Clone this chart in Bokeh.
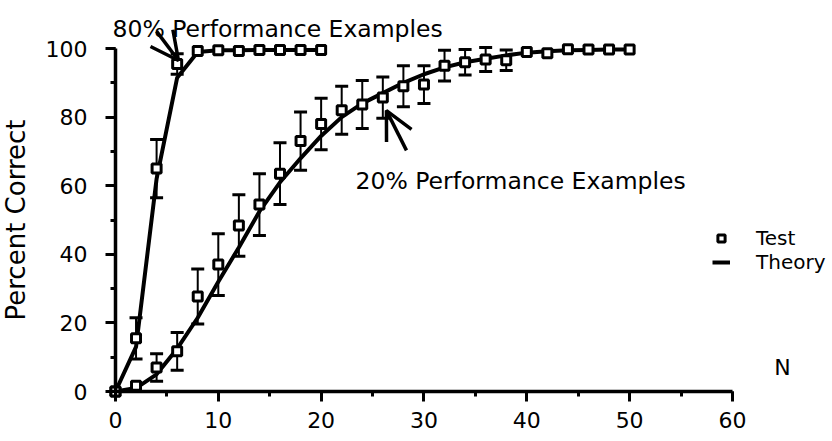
from bokeh.plotting import figure
from bokeh.models import (Range1d, SingleIntervalTicker, ColumnDataSource, Whisker, TeeHead,
                          Label, Arrow, OpenHead, Legend, LegendItem)
from bokeh.embed import file_html
from bokeh.resources import INLINE

# ---- data ----
n80 = [0, 2, 4, 6, 8, 10, 12, 14, 16, 18, 20]
test80 = [0, 15.5, 65, 95.5, 99.3, 99.5, 99.3, 99.6, 99.6, 99.6, 99.6]
err80 = [0, 6, 8.5, 3, 0, 0, 0, 0, 0, 0, 0]
theory80 = [0, 13, 62, 91.5, 99, 99.5, 99.5, 99.6, 99.6, 99.6, 99.6]

n20 = [0, 2, 4, 6, 8, 10, 12, 14, 16, 18, 20, 22, 24, 26, 28, 30, 32, 34, 36, 38,
       40, 42, 44, 46, 48, 50]
test20 = [0, 1.7, 7, 11.7, 27.7, 37, 48.4, 54.5, 63.5, 73, 78, 82, 83.7, 85.7, 89,
          89.5, 95, 96, 96.8, 96.6, 99, 98.6, 99.8, 99.7, 99.7, 99.7]
err20 = [0, 0, 4, 5.5, 8, 9, 9, 9, 9, 8.5, 7.5, 7, 7, 6, 6, 5.5, 4.5, 3.7, 3.5, 3,
         0, 0, 0, 0, 0, 0]
theory20 = [0, 1, 5, 12.5, 21.5, 32, 42, 52.5, 61, 68, 74.5, 80, 84, 87, 90, 92.5,
            94.5, 96, 97, 98, 98.8, 99.2, 99.5, 99.6, 99.7, 99.7]

x_ticks_interval = 10
y_ticks_interval = 20

FONT = "DejaVu Sans"

W, H = 828, 436
p = figure(width=W, height=H, output_backend="svg", toolbar_location=None,
           title=None,
           x_range=Range1d(-11.18, 69.34), y_range=Range1d(-13.12, 114.0),
           min_border_left=0, min_border_right=0, min_border_top=0,
           min_border_bottom=0)
p.outline_line_color = None
p.grid.visible = False
p.background_fill_color = "white"

# error bars
def whisker_source(xs, ys, es):
    rows = [(x, y + e, y - e) for x, y, e in zip(xs, ys, es) if e > 0]
    return ColumnDataSource(dict(x=[r[0] for r in rows], upper=[r[1] for r in rows],
                                 lower=[r[2] for r in rows]))

for xs, ys, es in ((n80, test80, err80), (n20, test20, err20)):
    w = Whisker(source=whisker_source(xs, ys, es), base="x", upper="upper", lower="lower",
                dimension="height", line_width=2, line_color="black", level="underlay",
                upper_head=TeeHead(size=13, line_width=3, line_color="black"),
                lower_head=TeeHead(size=13, line_width=3, line_color="black"))
    p.add_layout(w)

l80 = p.line(n80, theory80, line_width=4, line_color="black")
l20 = p.line(n20, theory20, line_width=4, line_color="black")
s80 = p.scatter(n80, test80, marker="square", size=9, line_width=3,
                line_color="black", fill_color="white")
s20 = p.scatter(n20, test20, marker="square", size=9, line_width=3,
                line_color="black", fill_color="white")

# axes crossing at the origin
for ax in (p.xaxis[0], p.yaxis[0]):
    ax.fixed_location = 0
    ax.axis_line_width = 3.5
    ax.major_tick_line_width = 3
    ax.minor_tick_line_width = 3
    ax.major_tick_in = 0
    ax.major_tick_out = 10
    ax.minor_tick_in = 0
    ax.minor_tick_out = 5
    ax.major_label_text_font = FONT
    ax.major_label_text_font_size = "22px"
    ax.major_label_text_color = "black"
    ax.axis_line_color = "black"
    ax.major_tick_line_color = "black"
    ax.minor_tick_line_color = "black"

p.xaxis.bounds = (0, 60)
p.xaxis.ticker = SingleIntervalTicker(interval=x_ticks_interval, num_minor_ticks=2)
p.xaxis.major_label_standoff = 10
p.yaxis.bounds = (0, 100)
p.yaxis.ticker = SingleIntervalTicker(interval=y_ticks_interval, num_minor_ticks=2)
p.yaxis.major_label_standoff = 18
p.yaxis.axis_label = "Percent Correct"
p.yaxis.axis_label_text_font = FONT
p.yaxis.axis_label_text_font_size = "26px"
p.yaxis.axis_label_text_font_style = "normal"
p.yaxis.axis_label_text_color = "black"
p.yaxis.axis_label_standoff = 12

# annotations
for txt, x, y in (("80% Performance Examples", -0.29, 105.8),
                  ("20% Performance Examples", 23.34, 61.5)):
    p.add_layout(Label(x=x, y=y, text=txt, text_font=FONT, text_font_size="23.5px",
                       text_baseline="alphabetic", text_color="black"))

p.add_layout(Label(x=64.86, y=7.0, text="N", text_font=FONT, text_font_size="22px",
                   text_align="center", text_baseline="alphabetic", text_color="black"))

p.add_layout(Arrow(x_start=4.0, y_start=105.0, x_end=6.13, y_end=96.5,
                   line_width=3.5, line_color="black",
                   end=OpenHead(size=28, line_width=3.5, line_color="black")))
p.add_layout(Arrow(x_start=28.3, y_start=70.3, x_end=26.35, y_end=81.9,
                   line_width=3.5, line_color="black",
                   end=OpenHead(size=28, line_width=3.5, line_color="black")))

legend = Legend(items=[LegendItem(label="Test", renderers=[s20]),
                       LegendItem(label="Theory", renderers=[l20])],
                location=(712, 162), label_text_font=FONT, label_text_font_size="20px",
                label_text_color="black",
                glyph_width=18, glyph_height=24, label_height=24, label_standoff=26,
                spacing=0, padding=0, margin=0, border_line_color=None,
                background_fill_alpha=0)
p.add_layout(legend)

open("out.html", "w").write(file_html(p, INLINE))
